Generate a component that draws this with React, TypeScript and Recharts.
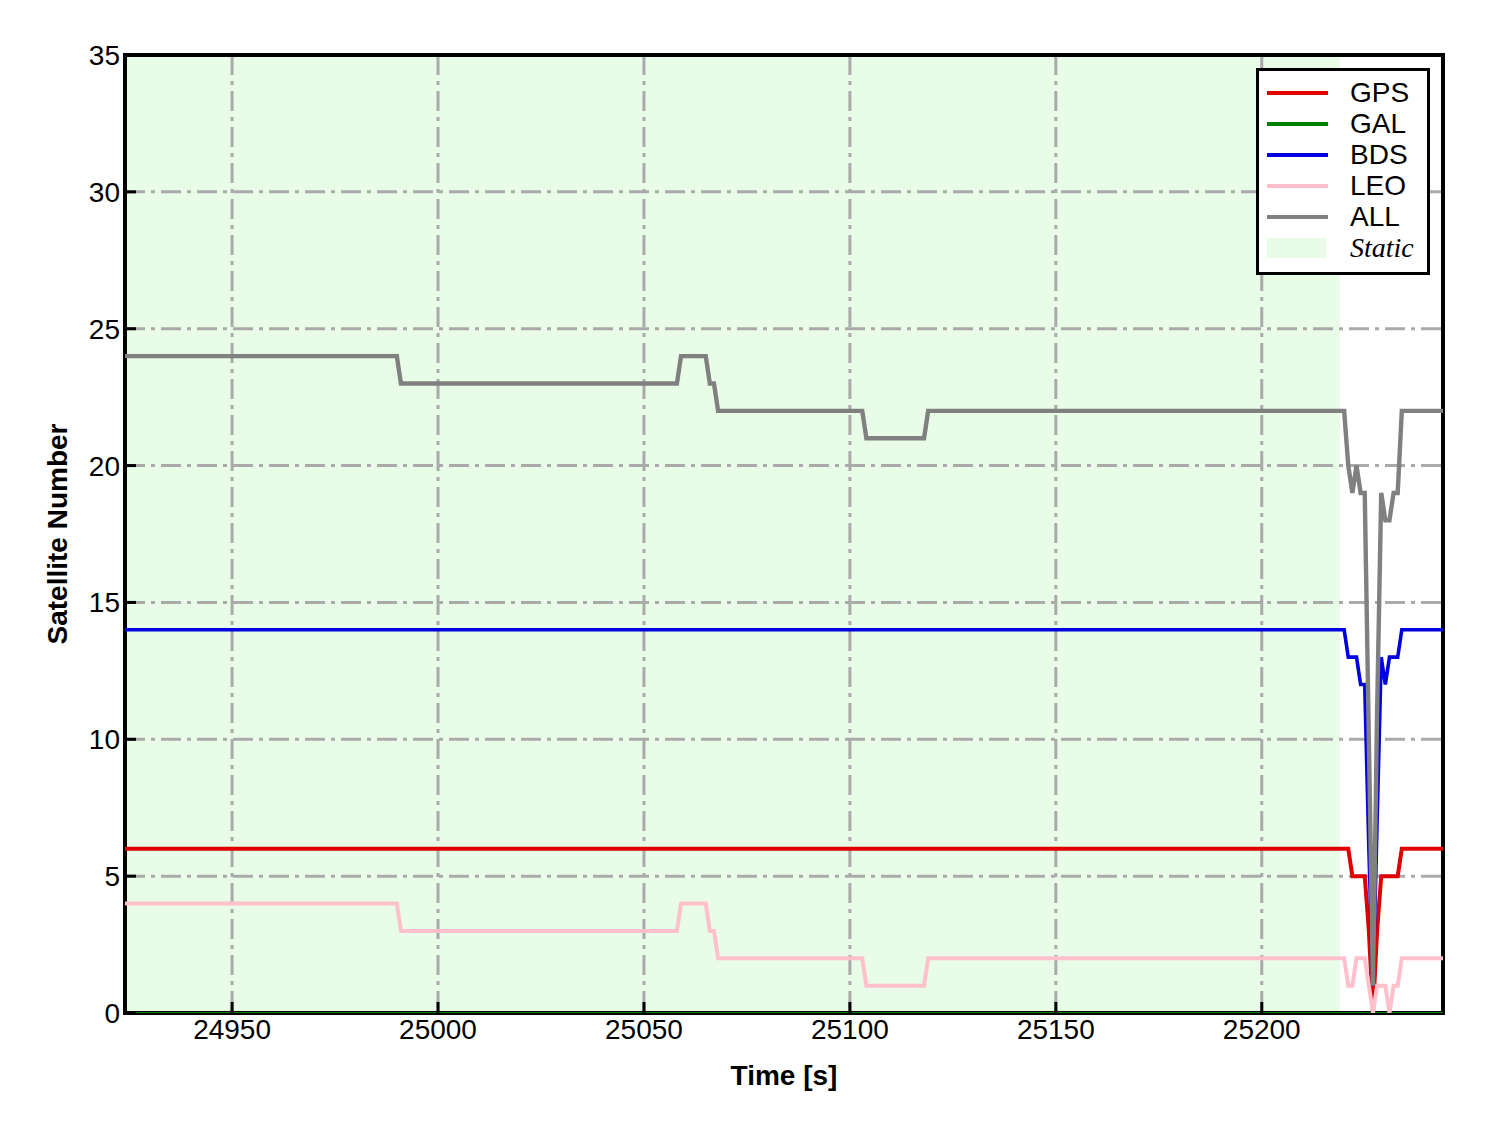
import { LineChart, Line, XAxis, YAxis, CartesianGrid, ReferenceArea, Label } from 'recharts';

const X_DOMAIN = [24924, 25244];
const X_TICKS = [24950, 25000, 25050, 25100, 25150, 25200];
const Y_DOMAIN = [0, 35];
const Y_TICKS = [0, 5, 10, 15, 20, 25, 30, 35];
const STATIC_RANGE = [24924, 25219];

// [time in s, number of satellites], one entry at every change of the count
const GPS_STEPS = [
  [24924, 6], [25221, 6], [25222, 5], [25225, 5], [25226, 3], [25227, 0],
  [25228, 3], [25229, 5], [25233, 5], [25234, 6], [25244, 6],
];
const GAL_STEPS = [[24924, 0], [25244, 0]];
const BDS_STEPS = [
  [24924, 14], [25220, 14], [25221, 13], [25223, 13], [25224, 12], [25225, 12],
  [25226, 6], [25227, 1], [25228, 7], [25229, 13], [25230, 12], [25231, 13],
  [25233, 13], [25234, 14], [25244, 14],
];
const LEO_STEPS = [
  [24924, 4], [24990, 4], [24991, 3], [25058, 3], [25059, 4], [25065, 4],
  [25066, 3], [25067, 3], [25068, 2], [25103, 2], [25104, 1], [25118, 1],
  [25119, 2], [25220, 2], [25221, 1], [25222, 1], [25223, 2], [25225, 2],
  [25226, 1], [25227, 0], [25228, 1], [25230, 1], [25231, 0], [25232, 1],
  [25233, 1], [25234, 2], [25244, 2],
];
const ALL_STEPS = [
  [24924, 24], [24990, 24], [24991, 23], [25058, 23], [25059, 24], [25065, 24],
  [25066, 23], [25067, 23], [25068, 22], [25103, 22], [25104, 21], [25118, 21],
  [25119, 22], [25220, 22], [25221, 20], [25222, 19], [25223, 20], [25224, 19],
  [25225, 19], [25226, 10], [25227, 1], [25228, 11], [25229, 19], [25230, 18],
  [25231, 18], [25232, 19], [25233, 19], [25234, 22], [25244, 22],
];

const SERIES = [
  { name: 'GPS', color: '#e00000', width: 4, steps: GPS_STEPS },
  { name: 'GAL', color: '#007f00', width: 4, steps: GAL_STEPS },
  { name: 'BDS', color: '#0000e0', width: 3.6, steps: BDS_STEPS },
  { name: 'LEO', color: '#ffc0cb', width: 4, steps: LEO_STEPS },
  { name: 'ALL', color: '#808080', width: 4.4, steps: ALL_STEPS },
];

const STATIC_FILL = '#e8fce8';
const SANS = '"Liberation Sans", Arial, sans-serif';
const SERIF = '"Liberation Serif", "Times New Roman", serif';

const toPoints = (steps: number[][]) => steps.map(([t, n]) => ({ t, n }));

function XTick(props: any) {
  const { x, y, payload } = props;
  return (
    <g>
      <line x1={x} y1={y} x2={x} y2={y - 11} stroke="#000" strokeWidth={3} />
      <text x={x} y={y + 6} dy="0.71em" textAnchor="middle" fontSize={28} fontFamily={SANS} fill="#000">
        {payload.value}
      </text>
    </g>
  );
}

function YTick(props: any) {
  const { x, y, payload } = props;
  return (
    <g>
      <line x1={x} y1={y} x2={x + 11} y2={y} stroke="#000" strokeWidth={3} />
      <text x={x - 5} y={y} dy="0.355em" textAnchor="end" fontSize={28} fontFamily={SANS} fill="#000">
        {payload.value}
      </text>
    </g>
  );
}

function Legend() {
  return (
    <div
      style={{
        position: 'absolute',
        left: 1256,
        top: 68,
        width: 168,
        border: '3px solid #000',
        background: '#fff',
        padding: '6px 0 9px 0',
        fontFamily: SANS,
        fontSize: 28,
      }}
    >
      {SERIES.map((s) => (
        <div key={s.name} style={{ display: 'flex', alignItems: 'center', height: 31 }}>
          <div style={{ marginLeft: 8, width: 61, height: 4, background: s.color }} />
          <span style={{ marginLeft: 22, lineHeight: '31px' }}>{s.name}</span>
        </div>
      ))}
      <div style={{ display: 'flex', alignItems: 'center', height: 31 }}>
        <div style={{ marginLeft: 8, width: 59, height: 20, background: STATIC_FILL }} />
        <span style={{ marginLeft: 24, lineHeight: '31px', fontFamily: SERIF, fontStyle: 'italic' }}>Static</span>
      </div>
    </div>
  );
}

export default function App() {
  return (
    <div style={{ position: 'absolute', left: 0, top: 0, width: 1488, height: 1133, background: '#fff' }}>
      <LineChart width={1488} height={1133} margin={{ top: 55, right: 45, bottom: 0, left: 0 }}>
        <ReferenceArea
          x1={STATIC_RANGE[0]}
          x2={STATIC_RANGE[1]}
          y1={Y_DOMAIN[0]}
          y2={Y_DOMAIN[1]}
          fill={STATIC_FILL}
          fillOpacity={1}
          stroke="none"
          zIndex={-150}
        />
        <CartesianGrid stroke="#aaaaaa" strokeWidth={3} strokeDasharray="20 6 4 6" />
        <XAxis
          type="number"
          dataKey="t"
          domain={X_DOMAIN}
          ticks={X_TICKS}
          allowDataOverflow
          height={120}
          tickSize={0}
          tickMargin={0}
          tickLine={false}
          axisLine={false}
          tick={<XTick />}
        >
          <Label
            content={(p: any) => {
              const vb = p.viewBox || { x: 125, y: 1013, width: 1318, height: 120 };
              return (
                <text x={vb.x + vb.width / 2} y={vb.y + 72} textAnchor="middle" fontSize={28} fontWeight="bold" fontFamily={SANS} fill="#000">
                  Time [s]
                </text>
              );
            }}
          />
        </XAxis>
        <YAxis
          type="number"
          domain={Y_DOMAIN}
          ticks={Y_TICKS}
          allowDataOverflow
          width={125}
          tickSize={0}
          tickMargin={0}
          tickLine={false}
          axisLine={false}
          tick={<YTick />}
        >
          <Label
            content={(p: any) => {
              const vb = p.viewBox || { x: 0, y: 55, width: 125, height: 958 };
              const cx = vb.x + 57;
              const cy = vb.y + vb.height / 2;
              return (
                <text
                  transform={`translate(${cx}, ${cy}) rotate(-90)`}
                  textAnchor="middle"
                  dominantBaseline="central"
                  fontSize={28}
                  fontWeight="bold"
                  fontFamily={SANS}
                  fill="#000"
                >
                  Satellite Number
                </text>
              );
            }}
          />
        </YAxis>
        <ReferenceArea
          x1={X_DOMAIN[0]}
          x2={X_DOMAIN[1]}
          y1={Y_DOMAIN[0]}
          y2={Y_DOMAIN[1]}
          fill="none"
          stroke="#000"
          strokeWidth={4}
          zIndex={350}
        />
        {SERIES.map((s) => (
          <Line
            key={s.name}
            data={toPoints(s.steps)}
            dataKey="n"
            name={s.name}
            type="linear"
            stroke={s.color}
            strokeWidth={s.name === 'GAL' ? 2 : s.width}
            dot={false}
            activeDot={false}
            isAnimationActive={false}
          />
        ))}
      </LineChart>
      <Legend />
    </div>
  );
}
